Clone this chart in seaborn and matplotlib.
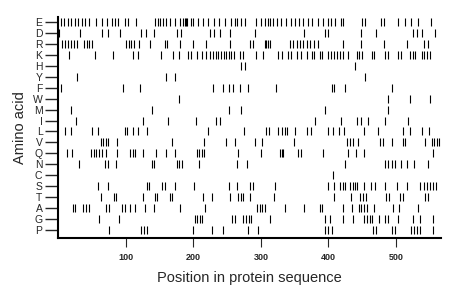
import numpy as np
import pandas as pd
import seaborn as sns
import matplotlib
matplotlib.use("Agg")
import matplotlib.pyplot as plt

# amino acid order, top to bottom
amino = ["E", "D", "R", "K", "H", "Y", "F", "W", "M", "I",
         "L", "V", "Q", "N", "C", "S", "T", "A", "G", "P"]

# positions of each residue in the sequence
pos_E = [4, 8, 14, 18, 24, 29, 35, 39, 46, 55, 64, 72, 80, 84, 88, 98, 103, 115,
         143, 147, 151, 155, 160, 166, 172, 180, 184, 187, 189, 191, 196, 200,
         207, 214, 222, 230, 238, 247, 255, 262, 265, 270, 276, 293, 300, 306,
         310, 313, 318, 324, 330, 337, 344, 350, 356, 363, 370, 376, 384, 392,
         399, 404, 410, 418, 421, 450, 454, 478, 483, 503, 513, 522, 533, 552]
pos_D = [1, 32, 64, 74, 91, 123, 130, 141, 175, 182, 224, 231, 239,
         254, 291, 364, 395, 400, 448, 471, 526, 531, 538, 558]
pos_R = [5, 10, 14, 18, 23, 28, 38, 42, 46, 50, 100, 104, 108, 112, 120, 136,
         158, 161, 180, 200, 218, 254, 284, 289, 306, 308, 311, 313, 343, 348,
         353, 358, 363, 368, 373, 378, 385, 422, 449, 483, 516, 541, 548]
pos_K = [15, 54, 81, 110, 118, 152, 170, 179, 192, 197, 205, 212, 219, 225,
         229, 233, 237, 241, 245, 249, 253, 256, 260, 269, 274, 293, 303, 326,
         331, 340, 345, 353, 360, 368, 375, 379, 387, 391, 400, 404, 408, 412,
         417, 421, 429, 442, 446, 450, 464, 468, 484, 488, 503, 507, 521, 525,
         529, 538, 542, 546, 550]
pos_H = [271, 276, 439]
pos_Y = [28, 160, 173, 454]
pos_F = [4, 96, 121, 229, 244, 252, 259, 269, 281, 323, 405, 409, 424, 494]
pos_W = [178, 489, 521, 550]
pos_M = [18, 138, 253, 271, 395, 488]
pos_I = [26, 125, 163, 204, 234, 239, 380, 419, 443, 449, 458, 484, 518]
pos_L = [10, 18, 50, 58, 99, 102, 111, 118, 131, 222, 275, 308, 312, 326, 331,
         335, 339, 350, 368, 374, 399, 407, 416, 423, 452, 474, 511, 521, 538, 549]
pos_V = [63, 66, 70, 74, 87, 169, 216, 249, 262, 291, 301, 349, 428, 432, 436,
         444, 476, 481, 494, 511, 513, 543, 553, 557, 561, 564]
pos_Q = [12, 20, 48, 52, 56, 60, 64, 71, 87, 106, 110, 114, 125, 144, 160, 173,
         205, 209, 213, 216, 266, 300, 328, 331, 333, 355, 359, 392, 429, 441,
         453, 555]
pos_N = [30, 69, 73, 85, 138, 142, 175, 179, 183, 208, 265, 279, 425, 484, 489,
         494, 499, 508, 516, 527, 548]
pos_C = [407]
pos_S = [58, 74, 131, 134, 154, 158, 172, 201, 252, 265, 284, 289, 321, 400,
         409, 417, 421, 425, 432, 436, 439, 443, 452, 463, 469, 484, 501, 517,
         536, 541, 546, 550, 555, 560]
pos_T = [63, 83, 85, 125, 143, 146, 165, 169, 214, 228, 254, 266, 270, 274,
         284, 320, 409, 433, 447, 451, 455, 486, 490, 506, 510, 543, 548]
pos_A = [21, 25, 37, 41, 45, 70, 75, 94, 98, 106, 113, 128, 141, 180, 217, 294,
         298, 302, 306, 335, 364, 387, 390, 422, 435, 445, 449, 453, 457, 468,
         496, 504, 533]
pos_G = [60, 90, 202, 206, 210, 213, 257, 262, 274, 278, 282, 286, 313, 395,
         402, 421, 436, 453, 457, 461, 465, 475, 484, 488, 503, 526, 536, 555]
pos_P = [75, 123, 127, 131, 199, 228, 244, 281, 296, 395, 400, 405, 466, 471,
         494, 499, 523, 527, 531, 535, 555]

positions = [pos_E, pos_D, pos_R, pos_K, pos_H, pos_Y, pos_F, pos_W, pos_M, pos_I,
             pos_L, pos_V, pos_Q, pos_N, pos_C, pos_S, pos_T, pos_A, pos_G, pos_P]
seq_len = 567

rows = []
for i, aa in enumerate(amino):
    for p in positions[i]:
        rows.append({"pos": p, "aa": aa, "row": i})
df = pd.DataFrame(rows)

sns.set_style("white")
plt.rcParams["font.family"] = ["Liberation Sans", "DejaVu Sans"]

fig = plt.figure(figsize=(4.6, 2.99), dpi=100)
ax = fig.add_axes([0.127, 0.204, 0.832, 0.738])

sns.scatterplot(data=df, x="pos", y="row", marker="|", s=26, linewidth=0.8,
                color="black", ax=ax, legend=False)

ax.set_xlim(0, seq_len)
ax.set_ylim(19.75, -0.45)
ax.set_yticks(range(len(amino)))
ax.set_yticklabels(amino, fontsize=7.5)
ax.set_xticks([100, 200, 300, 400, 500])
ax.set_xticklabels(["100", "200", "300", "400", "500"], fontsize=6.5, fontweight="bold")
ax.tick_params(axis="y", length=9.5, width=1.0, pad=2, left=True)
ax.tick_params(axis="x", length=6.5, width=0.8, pad=4, bottom=True)

ax.set_xlabel("Position in protein sequence", fontsize=10.5, labelpad=7)
ax.set_ylabel("Amino acid", fontsize=10.5, labelpad=4)

for side in ["top", "right"]:
    ax.spines[side].set_visible(False)
for side in ["left", "bottom"]:
    ax.spines[side].set_linewidth(1.5)
    ax.spines[side].set_color("black")

fig.savefig("out.png", dpi=100)
